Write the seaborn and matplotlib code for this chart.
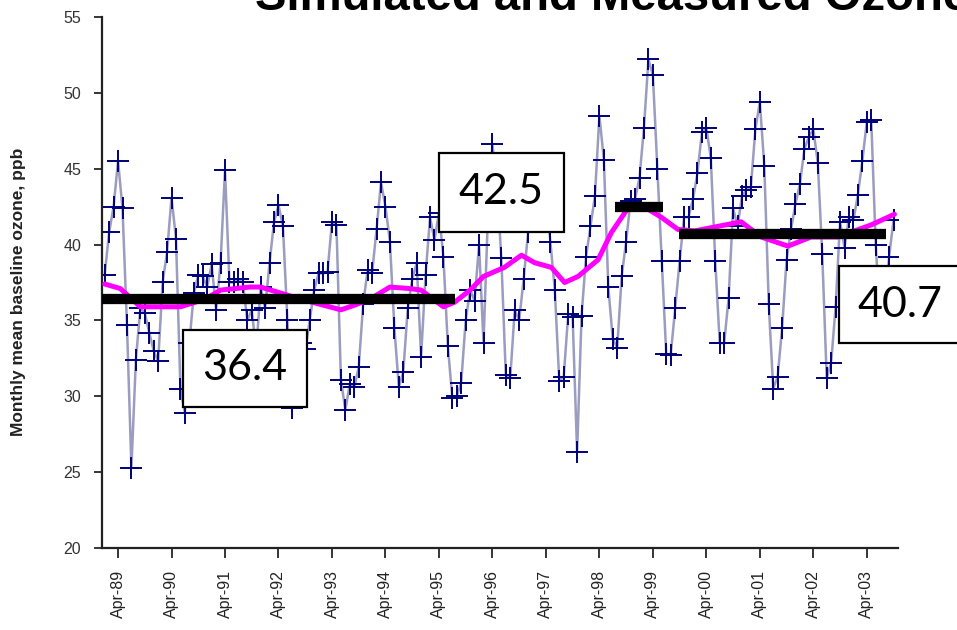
import numpy as np
import pandas as pd
import matplotlib
matplotlib.use("Agg")
import matplotlib.pyplot as plt
from matplotlib.patches import Rectangle
import seaborn as sns

# Monthly mean baseline ozone (ppb), one list per calendar year, starting Jan 1989
ozone_1989 = [38.0, 40.8, 42.5, 45.5, 42.4, 34.7, 25.3, 32.4, 35.8, 35.5, 34.2, 33.0]
ozone_1990 = [32.3, 37.5, 39.5, 43.1, 40.4, 30.5, 28.9, 33.5, 36.8, 38.0, 37.9, 37.2]
ozone_1991 = [38.7, 35.7, 38.8, 44.9, 37.5, 37.5, 37.7, 37.5, 35.0, 35.7, 33.0, 37.2]
ozone_1992 = [35.8, 38.8, 41.5, 42.6, 41.2, 35.0, 29.2, 31.0, 33.5, 33.1, 35.0, 37.0]
ozone_1993 = [38.1, 38.1, 38.2, 41.5, 41.3, 31.1, 29.1, 30.8, 30.6, 31.9, 36.1, 38.3]
ozone_1994 = [38.1, 41.0, 44.1, 42.5, 40.2, 34.5, 30.6, 31.6, 35.8, 37.7, 38.8, 32.6]
ozone_1995 = [38.0, 41.8, 40.3, 42.1, 39.2, 33.3, 29.9, 30.0, 30.9, 35.0, 37.0, 36.3]
ozone_1996 = [40.0, 33.5, 42.0, 46.6, 44.0, 39.1, 31.4, 31.2, 35.7, 35.0, 37.7, 40.8]
ozone_1997 = [43.0, 41.5, 44.0, 43.0, 40.2, 37.0, 31.0, 31.3, 35.4, 35.2, 26.3, 35.3]
ozone_1998 = [39.2, 41.2, 43.2, 48.5, 45.6, 37.2, 33.8, 33.2, 37.9, 40.2, 42.9, 43.0]
ozone_1999 = [44.4, 47.7, 52.2, 51.2, 45.0, 38.9, 32.8, 32.7, 35.8, 38.9, 41.8, 41.8]
ozone_2000 = [43.0, 44.7, 47.4, 47.7, 45.7, 38.9, 33.5, 33.5, 36.5, 42.4, 41.2, 43.2]
ozone_2001 = [43.6, 43.8, 47.6, 49.4, 45.2, 36.1, 30.5, 31.3, 34.5, 39.0, 41.0, 42.7]
ozone_2002 = [44.0, 46.3, 47.1, 47.6, 45.4, 39.4, 31.2, 32.2, 35.9, 41.5, 39.8, 41.8]
ozone_2003 = [41.6, 43.3, 45.5, 48.1, 48.2, 40.0, 35.0, 36.0, 39.2, 41.6]

# Running mean (month index from Jan 1989, ppb)
rm_month = [0, 3.5, 8, 13.5, 17, 22.5, 26, 32.6, 35, 44, 53, 56, 59.5, 64, 68.5,
            71, 76, 78.5, 82, 85, 89.7, 93.5, 96.5, 100.2, 103.2, 106.2, 110.7,
            113.7, 117.4, 120.4, 124.9, 128.6, 132.4, 137.6, 142.8, 147.3, 153.3,
            158.5, 164.5, 172, 177.2]
rm_value = [37.4, 37.1, 35.9, 35.9, 35.9, 36.4, 37.0, 37.2, 37.2, 36.4, 35.7, 36.0,
            36.4, 37.2, 37.1, 37.0, 35.9, 36.2, 37.0, 37.9, 38.5, 39.3, 38.8, 38.5,
            37.5, 37.9, 39.0, 40.8, 42.4, 42.6, 41.8, 41.0, 40.9, 41.2, 41.5, 40.5,
            39.9, 40.5, 40.5, 41.3, 42.0]

# Period means (month index span and mean level, ppb)
period_start = [-0.6, 114.5, 128.8]
period_end = [78.6, 125.3, 175.3]
period_mean = [36.4, 42.5, 40.7]

tick_labels = ["Apr-89", "Apr-90", "Apr-91", "Apr-92", "Apr-93", "Apr-94", "Apr-95",
               "Apr-96", "Apr-97", "Apr-98", "Apr-99", "Apr-00", "Apr-01", "Apr-02",
               "Apr-03"]

ozone = (ozone_1989 + ozone_1990 + ozone_1991 + ozone_1992 + ozone_1993 + ozone_1994
         + ozone_1995 + ozone_1996 + ozone_1997 + ozone_1998 + ozone_1999 + ozone_2000
         + ozone_2001 + ozone_2002 + ozone_2003)
df = pd.DataFrame({"month": np.arange(len(ozone)), "ozone": ozone})
rm = pd.DataFrame({"month": rm_month, "ozone": rm_value})
tick_pos = [3 + 12 * i for i in range(len(tick_labels))]

sns.set_style("ticks")
plt.rcParams["font.family"] = ["Liberation Sans", "DejaVu Sans"]

W, H = 957, 630
fig = plt.figure(figsize=(W / 100, H / 100), dpi=100)


def fx(px):
    return px / W


def fy(py):
    return 1 - py / H


ax = fig.add_axes([fx(102), fy(548), fx(898) - fx(102), fy(17) - fy(548)])

sns.lineplot(data=df, x="month", y="ozone", ax=ax, color="#9c9cc0", linewidth=1.8,
             marker="+", markersize=16, markeredgewidth=1.4,
             markeredgecolor="#00007a", zorder=2)
sns.lineplot(data=rm, x="month", y="ozone", ax=ax, color="#ff00ff", linewidth=3.6,
             solid_joinstyle="round", solid_capstyle="round", zorder=3)
ax.hlines(period_mean, period_start, period_end, colors="black", linewidth=7.4,
          capstyle="butt", zorder=4)

ax.set_xlim(-0.6, 178)
ax.set_ylim(20, 55)
ax.set_yticks(range(20, 56, 5))
ax.set_xticks(tick_pos)
ax.set_xticklabels(tick_labels, rotation=90, fontsize=11.5, color="#222222")
ax.tick_params(axis="y", labelsize=11.5, labelcolor="#333333", length=6, width=1.3,
               pad=9)
ax.tick_params(axis="x", length=7, width=1.3, pad=9)
ax.set_xlabel("")
ax.set_ylabel("")
for side in ("top", "right"):
    ax.spines[side].set_visible(False)
for side in ("left", "bottom"):
    ax.spines[side].set_linewidth(1.6)
    ax.spines[side].set_color("#222222")

fig.text(fx(19), fy(292), "Monthly mean baseline ozone, ppb", rotation=90,
         ha="center", va="center", fontsize=12.5, fontweight="bold",
         color="#222222")

fig.text(fx(255), fy(10), "Simulated and Measured Ozone", ha="left", va="baseline",
         fontsize=34, fontweight="bold", color="black")

# Labelled boxes for the period means
boxes = [(183, 330, 307, 407), (439, 153, 564, 232), (839, 266, 965, 343)]
text_x = [245, 501, 900]
for (x0, y0, x1, y1), tx, val in zip(boxes, text_x, period_mean):
    fig.add_artist(Rectangle((fx(x0), fy(y1)), fx(x1) - fx(x0), fy(y0) - fy(y1),
                             transform=fig.transFigure, facecolor="white",
                             edgecolor="black", linewidth=1.6, zorder=5))
    fig.text(fx(tx), fy((y0 + y1) / 2), f"{val:.1f}", ha="center", va="center",
             fontsize=31, family=["Lato", "DejaVu Sans"], color="black", zorder=6)

fig.savefig("out.png", dpi=100)
